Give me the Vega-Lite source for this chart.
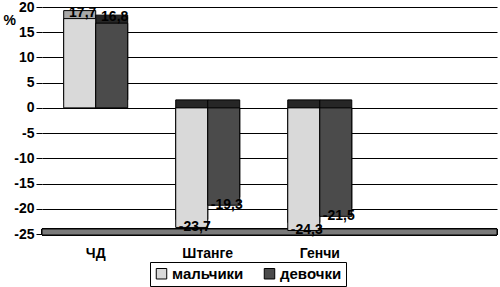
{
  "$schema": "https://vega.github.io/schema/vega-lite/v6.json",
  "autosize": {"type": "none"},
  "padding": {"left": 42, "top": 7, "right": 3, "bottom": 53},
  "width": 455,
  "height": 227,
  "background": "white",
  "config": {
    "locale": {"number": {"decimal": ",", "thousands": " ", "grouping": [3], "currency": ["", ""], "minus": "-"}},
    "font": "Liberation Sans",
    "view": {"stroke": null}
  },
  "data": {
    "values": [
      {"test": "ЧД", "sex": "мальчики", "value": 17.7},
      {"test": "ЧД", "sex": "девочки", "value": 16.8},
      {"test": "Штанге", "sex": "мальчики", "value": -23.7},
      {"test": "Штанге", "sex": "девочки", "value": -19.3},
      {"test": "Генчи", "sex": "мальчики", "value": -24.3},
      {"test": "Генчи", "sex": "девочки", "value": -21.5}
    ]
  },
  "layer": [
    {
      "mark": {"type": "rect", "fill": "#7a7a7a", "stroke": "#000", "strokeWidth": 1},
      "encoding": {
        "y": {"datum": -25.2, "type": "quantitative", "scale": {"domain": [-25, 20], "nice": false},
          "axis": {"values": [-25, -20, -15, -10, -5, 0, 5, 10, 15, 20], "tickCount": 20, "format": "d", "domain": false, "grid": true, "gridColor": "#000", "gridOpacity": 1, "gridWidth": 1,
            "labelOverlap": false, "tickColor": "#000", "tickSize": 6, "labelPadding": 2, "labelFontSize": 14, "labelFontWeight": "bold", "labelColor": "#000",
            "title": "%", "titleAngle": 0, "titleX": -39, "titleY": 13, "titleAlign": "left", "titleBaseline": "middle", "titleFontSize": 14, "titleFontWeight": "bold", "titleColor": "#000"}},
        "y2": {"datum": -24}
      }
    },
    {
      "mark": {"type": "bar", "xOffset": 8, "yOffset": -8, "stroke": "#000", "strokeWidth": 1},
      "encoding": {
        "x": {"field": "test", "type": "nominal", "sort": ["ЧД", "Штанге", "Генчи"],
          "scale": {"paddingInner": 0.4286, "paddingOuter": 0.745, "align": 0.13},
          "axis": {"title": null, "domain": false, "ticks": false, "labelAngle": 0, "labelFontSize": 14, "labelFontWeight": "bold", "labelColor": "#000", "labelPadding": 12}},
        "xOffset": {"field": "sex", "type": "nominal", "sort": ["мальчики", "девочки"], "scale": {"paddingInner": 0, "paddingOuter": 0}},
        "y": {"field": "value", "type": "quantitative", "scale": {"domain": [-25, 20], "nice": false}},
        "fill": {"condition": {"test": "datum.sex === 'мальчики' && datum.value > 0", "value": "#a8a8a8"}, "value": "#262626"}
      }
    },
    {
      "mark": {"type": "bar", "stroke": "#000", "strokeWidth": 1},
      "encoding": {
        "x": {"field": "test", "type": "nominal", "sort": ["ЧД", "Штанге", "Генчи"],
          "scale": {"paddingInner": 0.4286, "paddingOuter": 0.745, "align": 0.13}},
        "xOffset": {"field": "sex", "type": "nominal", "sort": ["мальчики", "девочки"], "scale": {"paddingInner": 0, "paddingOuter": 0}},
        "y": {"field": "value", "type": "quantitative", "scale": {"domain": [-25, 20], "nice": false}},
        "color": {"field": "sex", "type": "nominal", "scale": {"domain": ["мальчики", "девочки"], "range": ["#d9d9d9", "#4b4b4b"]},
          "legend": {"title": null, "orient": "none", "legendX": 108, "legendY": 255, "direction": "horizontal",
            "symbolType": "square", "symbolSize": 110, "symbolStrokeColor": "#000", "symbolStrokeWidth": 1, "symbolOpacity": 1,
            "labelFontSize": 15, "labelFontWeight": "bold", "labelColor": "#000", "labelOffset": 3, "columnPadding": 18,
            "strokeColor": "#000", "fillColor": "#fff", "padding": 4, "symbolOffset": 0}}
      }
    },
    {
      "transform": [{"filter": "datum.value > 0"}],
      "mark": {"type": "text", "fontSize": 14, "fontWeight": "bold", "color": "#000", "baseline": "bottom", "dy": 1, "dx": 3},
      "encoding": {
        "x": {"field": "test", "type": "nominal", "sort": ["ЧД", "Штанге", "Генчи"],
          "scale": {"paddingInner": 0.4286, "paddingOuter": 0.745, "align": 0.13}},
        "xOffset": {"field": "sex", "type": "nominal", "sort": ["мальчики", "девочки"]},
        "y": {"field": "value", "type": "quantitative", "scale": {"domain": [-25, 20], "nice": false}},
        "text": {"field": "value", "type": "quantitative", "format": ".1f"}
      }
    },
    {
      "transform": [{"filter": "datum.value < 0"}],
      "mark": {"type": "text", "fontSize": 14, "fontWeight": "bold", "color": "#000", "baseline": "middle", "dx": 3},
      "encoding": {
        "x": {"field": "test", "type": "nominal", "sort": ["ЧД", "Штанге", "Генчи"],
          "scale": {"paddingInner": 0.4286, "paddingOuter": 0.745, "align": 0.13}},
        "xOffset": {"field": "sex", "type": "nominal", "sort": ["мальчики", "девочки"]},
        "y": {"field": "value", "type": "quantitative", "scale": {"domain": [-25, 20], "nice": false}},
        "text": {"field": "value", "type": "quantitative", "format": ".1f"}
      }
    }
  ]
}
